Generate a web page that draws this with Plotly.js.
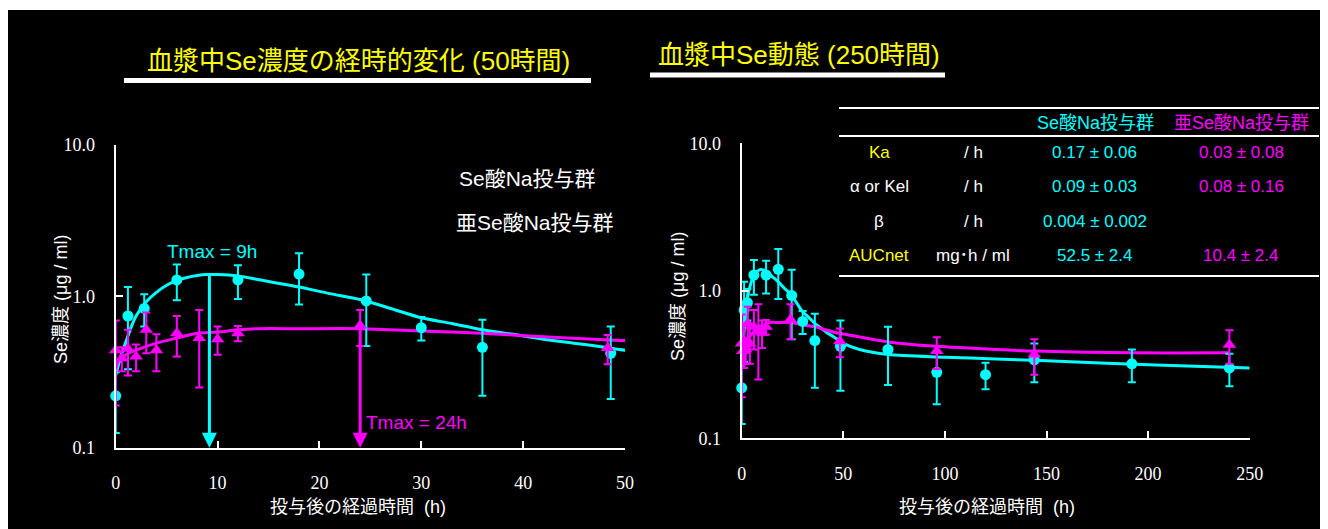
<!DOCTYPE html>
<html><head><meta charset="utf-8">
<script src="https://cdn.plot.ly/plotly-3.0.1.min.js"></script>
<style>html,body{margin:0;padding:0;background:#fff;}</style>
</head><body><div id="chart" style="width:1328px;height:529px;"></div>
<script>
// ---- observed data: Se酸Na投与群 (cyan circles) ----
const seNaTime = [0, 1.2, 2.8, 6, 12, 18, 24.6, 30, 36, 48.6, 72, 96, 120, 144, 192, 240];
const seNaMean = [0.22, 0.74, 0.83, 1.28, 1.28, 1.40, 0.93, 0.62, 0.46, 0.42, 0.40, 0.28, 0.27, 0.34, 0.32, 0.30];
const seNaSD   = [0.095, 0.41, 0.20, 0.34, 0.32, 0.52, 0.46, 0.11, 0.24, 0.21, 0.17, 0.11, 0.055, 0.10, 0.08, 0.075];

// ---- observed data: 亜Se酸Na投与群 (magenta triangles) ----
const subSeNaTime = [0, 0.6, 1.2, 2, 3, 4, 6, 8.2, 10, 12, 24, 48.3, 96, 144, 240];
const subSeNaMean = [0.44, 0.39, 0.45, 0.40, 0.60, 0.44, 0.57, 0.53, 0.52, 0.57, 0.64, 0.455, 0.39, 0.37, 0.43];
const subSeNaSD   = [0.25, 0.07, 0.15, 0.08, 0.18, 0.12, 0.17, 0.28, 0.11, 0.065, 0.17, 0.10, 0.095, 0.10, 0.11];

// ---- fitted curves ----
const seNaFitTime = [0, 0.5, 1, 1.5, 2, 3, 4, 5, 6, 7, 8, 9, 10, 12, 15, 18, 21, 24, 27, 30, 33, 36, 39, 42, 45, 48, 50, 58, 72, 100, 125, 150, 200, 250];
const seNaFitVal  = [0.30, 0.40, 0.50, 0.62, 0.74, 0.92, 1.06, 1.18, 1.27, 1.33, 1.37, 1.39, 1.39, 1.36, 1.25, 1.15, 1.04, 0.95, 0.83, 0.72, 0.66, 0.60, 0.56, 0.52, 0.49, 0.46, 0.44, 0.40, 0.37, 0.355, 0.345, 0.335, 0.315, 0.30];
const subSeNaFitTime = [0, 0.3, 1, 2, 4, 6, 8, 10, 12, 14, 18, 24, 30, 36, 41, 48, 50, 72, 96, 125, 144, 192, 240];
const subSeNaFitVal  = [0.33, 0.38, 0.41, 0.44, 0.49, 0.53, 0.57, 0.58, 0.60, 0.61, 0.61, 0.61, 0.59, 0.57, 0.545, 0.515, 0.51, 0.45, 0.42, 0.40, 0.39, 0.38, 0.38];

// Tmax values (h) and their peak concentrations
const tmaxSeNa = 9.2, tmaxSeNaPeak = 1.39;
const tmaxSubSeNa = 24, tmaxSubSeNaPeak = 0.63;

// ---- text ----
const titleLeft = '血漿中Se濃度の経時的変化 (50時間)';
const titleRight = '血漿中Se動態 (250時間)';
const groupNames = ['Se酸Na投与群', '亜Se酸Na投与群'];
const xLabel = '投与後の経過時間  (h)';
const yLabel = 'Se濃度 (μg / ml)';
const xTicksLeft = [0, 10, 20, 30, 40, 50];
const xTicksRight = [0, 50, 100, 150, 200, 250];
const yTickVals = [0.1, 1, 10];
const yTickText = ['0.1', '1.0', '10.0'];
const tableRowLabels = ['Ka', 'α or Kel', 'β', 'AUCnet'];
const tableRowLabelColors = ['#FFFF00', '#FFFFFF', '#FFFFFF', '#FFFF00'];
const tableUnits = ['/ h', '/ h', '/ h', 'mg･h / ml'];
const tableSeNa = ['0.17 ± 0.06', '0.09 ± 0.03', '0.004 ± 0.002', '52.5 ± 2.4'];
const tableSubSeNa = ['0.03 ± 0.08', '0.08 ± 0.16', '', '10.4 ± 2.4'];

const CYAN = '#00FFFF', MAG = '#FF00FF', YEL = '#FFFF00', WHITE = '#FFFFFF';
const SANS = 'Liberation Sans, Arial, Noto Sans CJK JP, sans-serif';
const SERIF = 'Liberation Serif, Times New Roman, serif';
const W = 1328, H = 529;
const px = v => v / W, py = v => 1 - v / H;

function filt(t, arrs, max) {
  const idx = t.map((v, i) => v <= max ? i : -1).filter(i => i >= 0);
  return arrs.map(a => idx.map(i => a[i]));
}

const traces = [];
function addPanel(xa, ya, xmax) {
  traces.push({x: seNaFitTime, y: seNaFitVal, xaxis: xa, yaxis: ya, mode: 'lines',
    line: {color: CYAN, width: 3, shape: 'spline', smoothing: 0.8}, showlegend: false, hoverinfo: 'skip'});
  traces.push({x: subSeNaFitTime, y: subSeNaFitVal, xaxis: xa, yaxis: ya, mode: 'lines',
    line: {color: MAG, width: 3, shape: 'spline', smoothing: 0.8}, showlegend: false, hoverinfo: 'skip'});
  const [ct, cm, cs] = filt(seNaTime, [seNaTime, seNaMean, seNaSD], xmax);
  traces.push({x: ct, y: cm, xaxis: xa, yaxis: ya, mode: 'markers', cliponaxis: false, name: groupNames[0],
    marker: {symbol: 'circle', size: 11, color: CYAN},
    error_y: {type: 'data', array: cs, color: CYAN, thickness: 2, width: 4}, showlegend: false});
  const [mt, mm, ms] = filt(subSeNaTime, [subSeNaTime, subSeNaMean, subSeNaSD], xmax);
  traces.push({x: mt, y: mm, xaxis: xa, yaxis: ya, mode: 'markers', cliponaxis: false, name: groupNames[1],
    marker: {symbol: 'triangle-up', size: 12, color: MAG},
    error_y: {type: 'data', array: ms, color: MAG, thickness: 2, width: 4}, showlegend: false});
}
addPanel('x', 'y', 50);
addPanel('x2', 'y2', 250);

function xAxis(domain, range, ticks) {
  return {domain, range, tickvals: ticks, ticktext: ticks.map(String), showgrid: false, zeroline: false,
    showline: true, linecolor: WHITE, linewidth: 2, ticks: 'inside', ticklen: 7, tickwidth: 2, tickcolor: WHITE,
    tickfont: {family: SERIF, size: 18, color: WHITE}, ticklabelstandoff: 18, fixedrange: true};
}
function yAxis(domain, anchor) {
  return {domain, type: 'log', range: [-1, 1], anchor, tickvals: yTickVals, ticktext: yTickText,
    showgrid: false, zeroline: false, showline: true, linecolor: WHITE, linewidth: 2,
    ticks: 'inside', ticklen: 7, tickwidth: 2, tickcolor: WHITE,
    tickfont: {family: SERIF, size: 18, color: WHITE}, ticklabelstandoff: 15, fixedrange: true};
}

const ann = [];
function txt(text, x, y, size, color, extra) {
  ann.push(Object.assign({text, x: px(x), y: py(y), xref: 'paper', yref: 'paper', showarrow: false,
    xanchor: 'center', yanchor: 'middle', font: {family: SANS, size, color}}, extra || {}));
}
// titles
txt(titleLeft, 358, 61, 26, YEL);
txt(titleRight, 799, 55, 26, YEL);
// legend labels
txt(groupNames[0], 527, 178, 21, WHITE);
txt(groupNames[1], 535, 222, 21, WHITE);
// axis titles
txt(xLabel, 358, 507, 18, WHITE);
txt(xLabel, 987, 507, 18, WHITE);
txt(yLabel, 61, 300, 18, WHITE, {textangle: -90});
txt(yLabel, 678, 297, 18, WHITE, {textangle: -90});
// Tmax labels
txt('Tmax = 9h', 212, 251, 19, CYAN);
txt('Tmax = 24h', 416, 422, 19, MAG);
// Tmax arrows
ann.push({x: tmaxSeNa, y: -1, ax: tmaxSeNa, ay: Math.log10(tmaxSeNaPeak), xref: 'x', yref: 'y', axref: 'x', ayref: 'y',
  showarrow: true, arrowhead: 2, arrowsize: 1.0, arrowwidth: 3, arrowcolor: CYAN, text: ''});
ann.push({x: tmaxSubSeNa, y: -1, ax: tmaxSubSeNa, ay: Math.log10(tmaxSubSeNaPeak), xref: 'x', yref: 'y', axref: 'x', ayref: 'y',
  showarrow: true, arrowhead: 2, arrowsize: 1.0, arrowwidth: 3, arrowcolor: MAG, text: ''});
// table
txt(groupNames[0], 1095, 123, 18, CYAN);
txt(groupNames[1], 1241, 123, 18, MAG);
const rowY = [152, 186, 221.5, 256];
tableRowLabels.forEach((r, i) => {
  txt(r, 879, rowY[i], 17, tableRowLabelColors[i]);
  txt(tableUnits[i], 973, rowY[i], 17, WHITE);
  txt(tableSeNa[i], 1094.5, rowY[i], 17, CYAN);
  if (tableSubSeNa[i]) txt(tableSubSeNa[i], 1241, rowY[i], 17, MAG);
});

const shapes = [
  {type: 'rect', xref: 'paper', yref: 'paper', x0: px(8), x1: px(1320), y0: 0, y1: py(10),
    fillcolor: '#000000', line: {width: 0}, layer: 'below'},
  {type: 'line', xref: 'paper', yref: 'paper', x0: px(124), x1: px(591), y0: py(80.5), y1: py(80.5),
    line: {color: WHITE, width: 5}},
  {type: 'line', xref: 'paper', yref: 'paper', x0: px(650), x1: px(945), y0: py(75), y1: py(75),
    line: {color: WHITE, width: 5}},
  {type: 'line', xref: 'paper', yref: 'paper', x0: px(839), x1: px(1319), y0: py(108), y1: py(108),
    line: {color: WHITE, width: 2}},
  {type: 'line', xref: 'paper', yref: 'paper', x0: px(839), x1: px(1319), y0: py(136), y1: py(136),
    line: {color: WHITE, width: 2}},
  {type: 'line', xref: 'paper', yref: 'paper', x0: px(839), x1: px(1319), y0: py(276), y1: py(276),
    line: {color: WHITE, width: 2}}
];

const layout = {
  width: W, height: H, autosize: false,
  margin: {l: 0, r: 0, t: 0, b: 0, pad: 0},
  paper_bgcolor: '#FFFFFF', plot_bgcolor: 'rgba(0,0,0,0)',
  showlegend: false,
  xaxis: xAxis([px(115.7), px(625)], [0, 50], xTicksLeft),
  yaxis: yAxis([1 - 447.7 / H, 1 - 144.7 / H], 'x'),
  xaxis2: Object.assign(xAxis([px(741.7), px(1249.7)], [0, 250], xTicksRight), {anchor: 'y2'}),
  yaxis2: yAxis([1 - 438.3 / H, 1 - 143.3 / H], 'x2'),
  annotations: ann,
  shapes
};
layout.xaxis.anchor = 'y';

Plotly.newPlot('chart', traces, layout, {staticPlot: true, displayModeBar: false});
</script></body></html>
